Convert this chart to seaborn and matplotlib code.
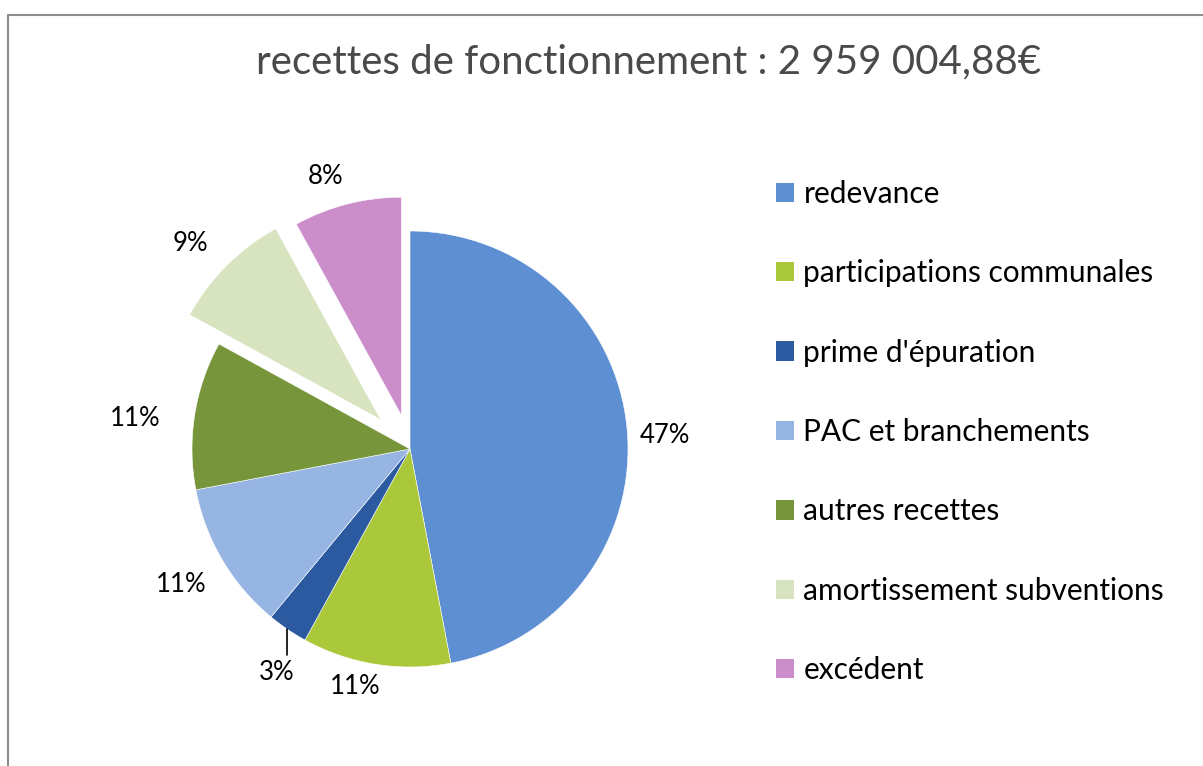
import numpy as np
import matplotlib.pyplot as plt
import seaborn as sns
from matplotlib.lines import Line2D
from matplotlib.patches import Patch

# --- data ---
categories = ["redevance", "participations communales", "prime d'épuration",
              "PAC et branchements", "autres recettes", "amortissement subventions",
              "excédent"]
shares = [47, 11, 3, 11, 11, 9, 8]
pct_labels = ["47%", "11%", "3%", "11%", "11%", "9%", "8%"]
colors = ["#5F8FD3", "#ABC83A", "#2C5AA0", "#96B5E2", "#77953B", "#D8E4BF", "#CC8DCB"]
title = "recettes de fonctionnement : 2 959 004,88€"

# --- layout ---
explode = [0, 0, 0, 0, 0, 0.19, 0.16]
label_dist = [1.17, 1.12, 1.2, 1.22, 1.27, 1.38, 1.31]
label_shift = [-2.3, -4.0, 0, 0, 2.6, 1.9, 2.9]   # degrees, nudges like Excel's best fit

sns.set_theme(style="white")
plt.rcParams["font.family"] = ["Lato", "DejaVu Sans"]

W, H = 1203, 766
fig = plt.figure(figsize=(W / 100, H / 100), dpi=100)
cx, cy, R = 410, 766 - 449, 218
lim = 1.4
half = lim * R
ax = fig.add_axes([(cx - half) / W, (cy - half) / H, 2 * half / W, 2 * half / H])

palette = sns.color_palette(colors)
wedges, _ = ax.pie(shares, colors=palette, startangle=90, counterclock=False,
                   explode=explode, radius=1.0,
                   wedgeprops=dict(linewidth=0.4, edgecolor="white"))
ax.set_xlim(-lim, lim)
ax.set_ylim(-lim, lim)
ax.set_aspect("equal")
ax.axis("off")

for i, w in enumerate(wedges):
    mid = (w.theta1 + w.theta2) / 2
    ang = np.deg2rad(mid + label_shift[i])
    ux, uy = np.cos(ang), np.sin(ang)
    if pct_labels[i] == "3%":
        # leader line straight down from the wedge edge
        x0, y0 = np.cos(np.deg2rad(mid)), np.sin(np.deg2rad(mid))
        ax.add_line(Line2D([x0, x0], [y0, y0 - 0.12], color="black", lw=1.2, clip_on=False))
        ax.text(x0 - 0.05, y0 - 0.2, pct_labels[i], ha="center", va="center",
                fontsize=18.5, color="black", clip_on=False)
        continue
    d = label_dist[i]
    ax.text(d * ux, d * uy, pct_labels[i], ha="center", va="center",
            fontsize=18.5, color="black", clip_on=False)

# legend
handles = [Patch(facecolor=c, edgecolor="none") for c in palette]
fig.legend(handles, categories, loc="upper left", bbox_to_anchor=(764 / W, 1 - 168 / H),
           frameon=False, fontsize=21.5, handlelength=0.62, handleheight=0.62,
           handletextpad=0.3, labelspacing=1.72, borderaxespad=0, labelcolor="black")

fig.text(649 / W, 1 - 62 / H, title, ha="center", va="center", fontsize=29,
         color="#4a4a4a", fontweight="normal")

# chart frame (top and left edges)
fig.add_artist(Line2D([8 / W, 1.0], [1 - 15 / H, 1 - 15 / H], color="#8C8C8C", lw=1.5))
fig.add_artist(Line2D([8 / W, 8 / W], [0, 1 - 15 / H], color="#8C8C8C", lw=1.5))

fig.savefig("out.png", dpi=100, facecolor="white")
